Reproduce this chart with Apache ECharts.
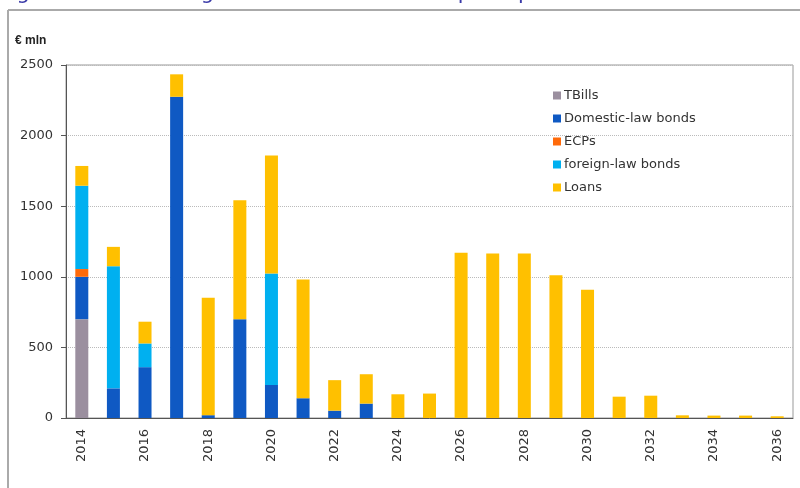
<!DOCTYPE html>
<html>
<head>
<meta charset="utf-8">
<script src="https://cdn.jsdelivr.net/npm/echarts@6/dist/echarts.min.js"></script>
<style>html,body{margin:0;padding:0;background:#fff;}#c{width:800px;height:488px;}</style>
</head>
<body>
<div id="c"></div>
<script>
var years = ['2014','2015','2016','2017','2018','2019','2020','2021','2022','2023','2024','2025','2026','2027','2028','2029','2030','2031','2032','2033','2034','2035','2036'];
var tbills   = [700,0,0,0,0,0,0,0,0,0,0,0,0,0,0,0,0,0,0,0,0,0,0];
var domestic = [300,210,360,2275,20,700,234,140,52,102,0,0,0,0,0,0,0,0,0,0,0,0,0];
var ecps     = [55,0,0,0,0,0,0,0,0,0,0,0,0,0,0,0,0,0,0,0,0,0,0];
var foreign  = [590,865,168,0,0,0,789,0,0,0,0,0,0,0,0,0,0,0,0,0,0,0,0];
var loans    = [140,137,154,159,832,843,836,840,216,208,168,173,1170,1165,1165,1011,909,151,158,19,17,17,12];
var yTicks = [0,500,1000,1500,2000,2500];

var font = 'DejaVu Sans';
var chart = echarts.init(document.getElementById('c'), null, {renderer:'canvas'});
function s(name, data, color){
  return {name:name, type:'bar', stack:'t', data:data, barWidth:13,
    itemStyle:{color:color}, emphasis:{disabled:true}};
}
chart.setOption({
  animation:false,
  backgroundColor:'#fff',
  graphic:[
    {type:'text', left:0, top:-17, style:{text:'Figure 12: General government debt redemption profile', font:'21px "DejaVu Sans"', fill:'#3a3aa8'}},
    {type:'line', shape:{x1:8,y1:10,x2:800,y2:10}, style:{stroke:'#aaaaaa', lineWidth:2}},
    {type:'line', shape:{x1:8,y1:10,x2:8,y2:488}, style:{stroke:'#aaaaaa', lineWidth:2}},
    {type:'text', left:15, top:35, style:{text:'€ mln', font:'bold 12px "Liberation Sans"', fill:'#222'}}
  ],
  legend:{
    orient:'vertical', left:548, top:84, itemWidth:8, itemHeight:8, itemGap:10,
    icon:'rect',
    textStyle:{fontFamily:font, fontSize:13, color:'#333', padding:[0,0,0,-2]},
    data:['TBills','Domestic-law bonds','ECPs','foreign-law bonds','Loans']
  },
  grid:{left:66, right:7, top:65, bottom:70, show:true, borderColor:'#999', borderWidth:1},
  xAxis:{
    type:'category', data:years,
    axisLine:{lineStyle:{color:'#555'}},
    axisTick:{show:false},
    axisLabel:{rotate:90, interval:1, fontFamily:font, fontSize:13, color:'#333', margin:11}
  },
  yAxis:{
    type:'value', min:yTicks[0], max:yTicks[yTicks.length-1], interval:500,
    axisLine:{show:true, lineStyle:{color:'#555'}},
    axisTick:{show:true, length:5, lineStyle:{color:'#555'}},
    splitLine:{lineStyle:{color:'#bbb', type:'dotted'}},
    axisLabel:{fontFamily:font, fontSize:13, color:'#333', margin:13, formatter:function(v){return String(v);}}
  },
  series:[
    s('TBills', tbills, '#9b8f9f'),
    s('Domestic-law bonds', domestic, '#0f59c3'),
    s('ECPs', ecps, '#ff6a0a'),
    s('foreign-law bonds', foreign, '#00b0f0'),
    s('Loans', loans, '#ffc000')
  ]
});
</script>
</body>
</html>
